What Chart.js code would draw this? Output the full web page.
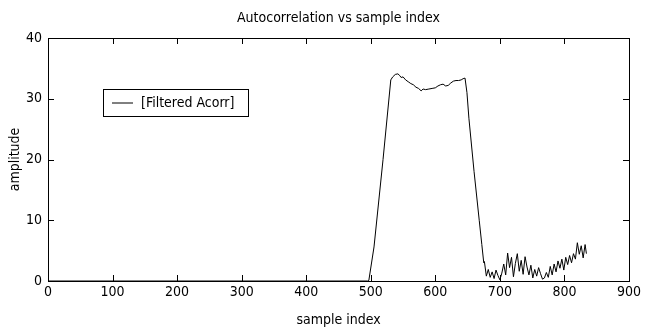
<!DOCTYPE html>
<html lang="en">
<head>
    <meta charset="UTF-8">
    <title>Autocorrelation vs sample index</title>
    <script src="https://cdn.jsdelivr.net/npm/chart.js"></script>
    <style>
        body { margin: 0; background: #fff; }
        #acorrChart { display: block; }
    </style>
</head>
<body>
    <canvas id="acorrChart" width="649" height="329"></canvas>

<script>
    // Sample indices and amplitudes
    const sampleIndex = [
        0, 495, 497, 505, 519, 531, 534, 538, 542, 545, 547, 550, 554, 558, 562, 566,
        570, 574, 578, 581, 585, 590, 595, 600, 604, 608, 612, 616, 620, 624, 628, 632,
        636, 640, 643, 646, 649, 652, 660, 668, 672, 675,
        676, 679, 682, 685, 688, 691, 694, 697, 700, 703, 706, 709, 712, 715, 718, 721,
        724, 727, 730, 733, 736, 739, 742, 745, 748, 751, 754, 757, 760, 763, 766, 769,
        772, 775, 778, 781, 784, 787, 790, 793, 796, 799, 802, 805, 808, 811, 814, 817,
        820, 823, 826, 829, 832, 834
    ];
    const amplitude = [
        0, 0, 0.1, 5.6, 20, 33.1, 33.6, 34.0, 34.1, 33.8, 33.5, 33.6, 33.1, 32.8, 32.5, 32.3,
        31.9, 31.7, 31.3, 31.6, 31.5, 31.6, 31.7, 31.8, 32.1, 32.3, 32.4, 32.1, 32.2, 32.6, 32.9, 33.0,
        33.0, 33.1, 33.3, 33.4, 31.0, 26.8, 18, 10, 6, 3,
        3.2, 0.8, 1.9, 0.6, 1.5, 0.4, 1.8, 0.9, 0.2, 1.3, 2.8, 1.0, 4.6, 2.2, 3.9, 0.7,
        2.9, 4.5, 1.6, 3.4, 1.1, 4.0, 2.3, 1.0, 2.6, 0.5, 1.9, 0.8, 2.2, 1.2, 0.3, 0.5,
        1.4, 0.6, 2.4, 1.0, 2.8, 1.5, 3.3, 2.1, 3.6, 1.8, 3.9, 2.7, 4.2, 3.0, 4.5, 3.6,
        6.3, 4.4, 5.8, 3.8, 6.0, 4.5
    ];
    const xTicks = [0, 100, 200, 300, 400, 500, 600, 700, 800, 900];
    const yTicks = [0, 10, 20, 30, 40];
    const seriesLabel = '[Filtered Acorr]';

    const FONT = "'Liberation Sans Narrow', 'DejaVu Sans Condensed', Arial, sans-serif";

    // matlab style frame: box plus inward tick marks, and the boxed legend
    const matlabFrame = {
        id: 'matlabFrame',
        afterDraw(chart) {
            const ctx = chart.ctx;
            const a = chart.chartArea;
            const xs = chart.scales.x, ys = chart.scales.y;
            const len = 6;
            ctx.save();
            ctx.strokeStyle = '#000';
            ctx.lineWidth = 1;
            ctx.strokeRect(Math.round(a.left) + 0.5, Math.round(a.top) + 0.5,
                Math.round(a.right - a.left), Math.round(a.bottom - a.top));
            ctx.beginPath();
            xTicks.forEach(v => {
                const px = Math.round(xs.getPixelForValue(v)) + 0.5;
                ctx.moveTo(px, a.bottom); ctx.lineTo(px, a.bottom - len);
                ctx.moveTo(px, a.top); ctx.lineTo(px, a.top + len);
            });
            yTicks.forEach(v => {
                const py = Math.round(ys.getPixelForValue(v)) + 0.5;
                ctx.moveTo(a.left, py); ctx.lineTo(a.left + len, py);
                ctx.moveTo(a.right, py); ctx.lineTo(a.right - len, py);
            });
            ctx.stroke();

            // legend box
            const bx = 103.5, by = 89.5, bw = 145, bh = 27;
            ctx.fillStyle = '#fff';
            ctx.fillRect(bx, by, bw, bh);
            ctx.strokeRect(bx, by, bw, bh);
            ctx.beginPath();
            ctx.moveTo(112, by + bh / 2);
            ctx.lineTo(133, by + bh / 2);
            ctx.stroke();
            ctx.fillStyle = '#000';
            ctx.font = '14px ' + FONT;
            ctx.textBaseline = 'middle';
            ctx.textAlign = 'left';
            ctx.fillText(chart.data.datasets[0].label, 141, by + bh / 2);
            ctx.restore();
        }
    };

    window.onload = function() {
        new Chart(document.getElementById('acorrChart'), {
            type: 'line',
            data: {
                datasets: [{
                    label: seriesLabel,
                    data: sampleIndex.map((x, i) => ({ x: x, y: amplitude[i] })),
                    borderColor: '#000',
                    borderWidth: 1,
                    pointRadius: 0,
                    tension: 0,
                    fill: false
                }]
            },
            options: {
                responsive: false,
                animation: false,
                layout: { padding: { left: 0, right: 20, top: 0, bottom: 0 } },
                plugins: {
                    legend: { display: false },
                    tooltip: { enabled: false },
                    title: {
                        display: true,
                        text: 'Autocorrelation vs sample index',
                        fullSize: false,
                        color: '#000',
                        font: { family: FONT, size: 14, weight: 'normal' },
                        padding: { top: 10, bottom: 11.2 }
                    }
                },
                scales: {
                    x: {
                        type: 'linear',
                        min: 0, max: 900,
                        afterFit: s => { s.height = 48; },
                        afterBuildTicks: s => { s.ticks = xTicks.map(v => ({ value: v })); },
                        grid: { display: false, drawTicks: false },
                        border: { display: false },
                        ticks: { color: '#000', padding: 3, maxRotation: 0,
                                 font: { family: FONT, size: 14 } },
                        title: { display: true, text: 'sample index', color: '#000',
                                 font: { family: FONT, size: 14 },
                                 padding: { top: 0, bottom: 0 } }
                    },
                    y: {
                        min: 0, max: 40,
                        afterFit: s => { s.width = 48; },
                        afterBuildTicks: s => { s.ticks = yTicks.map(v => ({ value: v })); },
                        grid: { display: false, drawTicks: false },
                        border: { display: false },
                        ticks: { color: '#000', padding: 6,
                                 font: { family: FONT, size: 14 } },
                        title: { display: true, text: 'amplitude', color: '#000',
                                 font: { family: FONT, size: 14 },
                                 padding: { top: 7, bottom: 0 } }
                    }
                }
            },
            plugins: [matlabFrame]
        });
    };
</script>
</body>
</html>
